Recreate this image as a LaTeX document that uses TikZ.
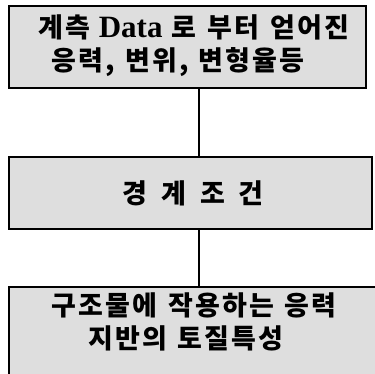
\documentclass[tikz,border=0pt]{standalone}
\usepackage{fontspec}
\setmainfont{Noto Sans CJK KR}[LetterSpace=8]
\newfontfamily\lat{Liberation Serif}
\begin{document}
\begin{tikzpicture}[x=1pt,y=-1pt,
  box/.style={draw=black,line width=1.8pt,fill=black!13,inner sep=0pt},
  lbl/.style={font=\fontsize{27}{27}\selectfont\bfseries,anchor=center,inner sep=0pt},
  conn/.style={line width=1.3pt}]
\useasboundingbox (0,0) rectangle (375,374);
\node[box,minimum width=357pt,minimum height=82pt] (b1) at (187.5,47) {};
\node[box,minimum width=363pt,minimum height=72pt] (b2) at (190.5,193) {};
\node[box,minimum width=371pt,minimum height=93pt] (b3) at (194.5,333.5) {};
\coordinate (cx) at (199,0);
\node[lbl] (t1a) at (194,27) {계측\hspace{8pt}{\lat\fontsize{31}{31}\selectfont\bfseries Data}\hspace{9pt}로\hspace{11pt}부터\hspace{11pt}얻어진};
\node[lbl] (t1b) at (178,62) {응력,\hspace{10pt}변위,\hspace{10pt}변형율등};
\node[lbl] (t2) at (193,193) {경\hspace{14pt}계\hspace{14pt}조\hspace{14pt}건};
\node[lbl] (t3a) at (194,305) {구조물에\hspace{11pt}작용하는\hspace{11pt}응력};
\node[lbl] (t3b) at (186,338) {지반의\hspace{11pt}토질특성};
\draw[conn] (b1.south -| cx) -- (b2.north -| cx);
\draw[conn] (b2.south -| cx) -- (b3.north -| cx);
\end{tikzpicture}
\end{document}
